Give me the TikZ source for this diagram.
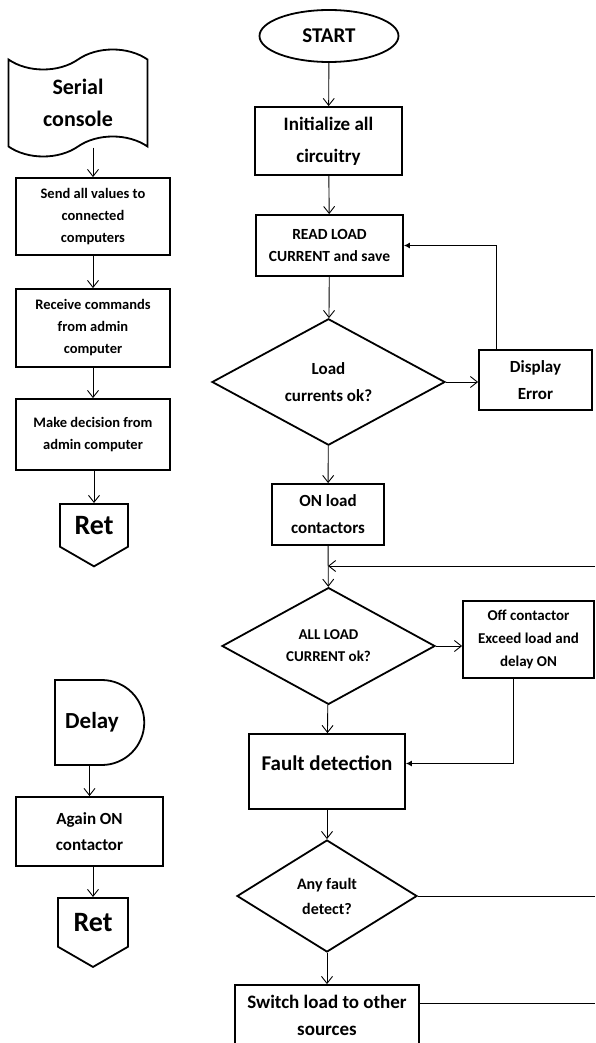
\documentclass[tikz,border=0pt]{standalone}
\usepackage{fontspec}
\setmainfont{Carlito}
\usetikzlibrary{arrows.meta,positioning,shapes.geometric,shapes.symbols,shapes.misc}
\newcommand\txtsize[2]{\fontsize{#1}{#2}\selectfont\bfseries}

\begin{document}
\begin{tikzpicture}[x=1pt, y=-1pt,
    every node/.style={align=center},
    box/.style={draw, line width=1.8pt, inner sep=2pt},
    choice/.style={draw, diamond, line width=1.8pt, inner sep=0pt},
    retbox/.style={draw, signal, signal to=south, signal from=nowhere, signal pointer angle=120, line width=1.8pt, anchor=north, font=\txtsize{28}{30}},
    flow/.style={-{Straight Barb[length=7pt,width=11pt]}, line width=0.9pt},
    back/.style={-{Latex[length=6pt,width=6pt]}, line width=0.9pt},
    link/.style={line width=0.9pt}]
  \useasboundingbox (0,0) rectangle (595,1043);
  \clip (0,0) rectangle (595,1043);
  % main flow
  \node[draw, ellipse, line width=1.8pt, minimum width=139pt, minimum height=52pt, font=\txtsize{21}{24}] (start) at (329,36) {START};
  \node[box, minimum width=147pt, minimum height=68pt, font=\txtsize{19}{32}] (init) at (328.5,141) {Initialize all\\circuitry};
  \node[box, minimum width=147pt, minimum height=61pt, font=\txtsize{15.5}{22}] (read) at (329.5,245.5) {READ LOAD\\CURRENT and save};
  \node[choice, minimum width=233pt, minimum height=124pt, font=\txtsize{17}{27}] (loadok) at (328.5,382) {Load\\currents ok?};
  \node[box, minimum width=113pt, minimum height=60pt, font=\txtsize{17}{27}] (showerr) at (535.5,380) {Display\\Error};
  \node[box, minimum width=112pt, minimum height=61pt, font=\txtsize{17}{27}] (onload) at (328,514.5) {ON load\\contactors};
  \node[choice, minimum width=213pt, minimum height=112pt, font=\txtsize{15}{22}] (allok) at (328.5,646) {ALL LOAD\\CURRENT ok?};
  \node[box, minimum width=131pt, minimum height=77pt, font=\txtsize{15}{23}] (offload) at (528.5,639.5) {Off contactor\\Exceed load and\\delay ON};
  \node[box, minimum width=156pt, minimum height=75pt, text depth=16pt, font=\txtsize{21}{24}] (fault) at (327,771.5) {Fault detection};
  \node[choice, minimum width=180pt, minimum height=112pt, font=\txtsize{16}{25}] (anyfault) at (327,896) {Any fault\\detect?};
  \node[box, minimum width=184pt, minimum height=70pt, text depth=10pt, font=\txtsize{19}{27}] (switch) at (327,1020) {Switch load to other\\sources};
  % serial routine
  \node[draw, tape, tape bend height=20pt, line width=1.8pt, minimum width=139pt, minimum height=107pt, font=\txtsize{22}{32}] (serial) at (78,103) {Serial\\console};
  \node[box, minimum width=154pt, minimum height=77pt, font=\txtsize{14.5}{22}] (sendall) at (93,216.5) {Send all values to\\connected\\computers};
  \node[box, minimum width=154pt, minimum height=78pt, font=\txtsize{14.5}{22}] (receive) at (93,328) {Receive commands\\from admin\\computer};
  \node[box, minimum width=154pt, minimum height=71pt, font=\txtsize{14.5}{22}] (decide) at (93,434.5) {Make decision from\\admin computer};
  \node[retbox, minimum width=68pt, minimum height=56pt] (ret1) at (94,503) {Ret};
  % delay routine
  \node[draw, rounded rectangle, rounded rectangle left arc=none, line width=1.8pt, minimum width=96pt, minimum height=85pt, font=\txtsize{23}{26}] (delay) at (99,722.5) {Delay\hspace*{14pt}};
  \node[box, minimum width=147pt, minimum height=69pt, font=\txtsize{17}{26}] (again) at (89.5,831.5) {Again ON\\contactor};
  \node[retbox, minimum width=70pt, minimum height=62pt] (ret2) at (93,897) {Ret};
  % connectors
  \coordinate (rim) at (595,0);
  \coordinate (loopend) at (595,566);
  \coordinate (loopjoin) at (onload.south |- loopend);
  \draw[flow] (start) -- (init);
  \draw[flow] (init) -- (read);
  \draw[flow] (read) -- (loadok);
  \draw[flow] (loadok.east) -- (loadok.east -| showerr.west);
  \draw[back] ([xshift=-39.5pt]showerr.north) |- (read.east);
  \draw[flow] (loadok) -- (onload);
  \draw[flow] (onload) -- (allok);
  \draw[flow] (loopend) -- (loopjoin);
  \draw[flow] (allok.east) -- (allok.east -| offload.west);
  \draw[back] ([xshift=-15.5pt]offload.south) |- ([yshift=8pt]fault.east);
  \draw[flow] (allok) -- (fault);
  \draw[flow] (fault) -- (anyfault);
  \draw[link] (anyfault.east) -- (anyfault.east -| rim);
  \draw[flow] (anyfault) -- (switch);
  \draw[link] ([yshift=-19pt]switch.north east) -- ([yshift=-19pt]switch.north east -| rim);
  \draw[flow] (serial.south -| sendall.north) -- (sendall.north);
  \draw[flow] (sendall) -- (receive);
  \draw[flow] (receive) -- (decide);
  \draw[flow] (decide.south -| ret1.north) -- (ret1.north);
  \draw[flow] (delay.south -| again.north) -- (again.north);
  \draw[flow] (again.south -| ret2.north) -- (ret2.north);
\end{tikzpicture}
\end{document}
